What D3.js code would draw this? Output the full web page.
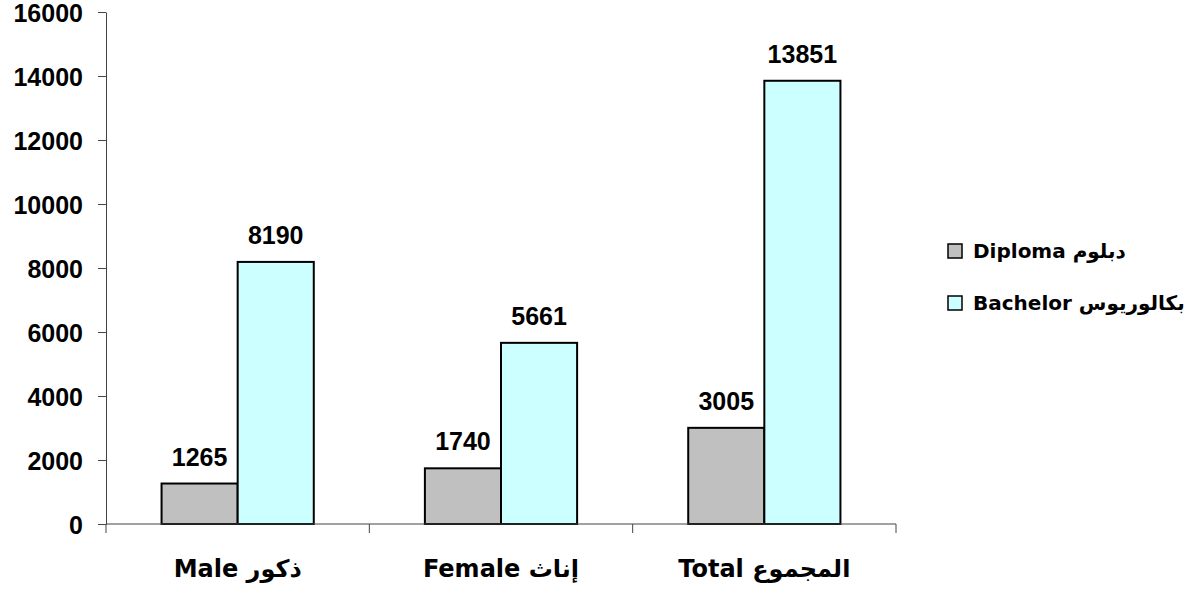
<!DOCTYPE html>
<html>
<head>
<meta charset="utf-8">
<script src="https://cdn.jsdelivr.net/npm/d3@7"></script>
<style>
  body { margin: 0; background: #fff; }
  svg text { font-family: "Liberation Sans", Arial, sans-serif; font-weight: bold; fill: #000; }
</style>
</head>
<body>
<div id="chart"></div>
<script>
// Datos del gráfico
const categories = ['Male ذكور', 'Female إناث', 'Total المجموع'];
const seriesNames = ['Diploma دبلوم', 'Bachelor بكالوريوس'];
const diploma = [1265, 1740, 3005];
const bachelor = [8190, 5661, 13851];
const yTicks = [0, 2000, 4000, 6000, 8000, 10000, 12000, 14000, 16000];
const colors = ['#c0c0c0', '#ccffff'];

// Configuración
const margin = { top: 12, right: 299, bottom: 76, left: 106 };
const width = 1195 - margin.left - margin.right;
const height = 600 - margin.top - margin.bottom;

const svg = d3
	.select('#chart')
	.append('svg')
	.attr('width', 1195)
	.attr('height', 600)
	.append('g')
	.attr('transform', `translate(${margin.left},${margin.top})`);

// Escalas
const x0 = d3.scaleBand().domain(categories).range([0, width]).padding(0);
const x1 = d3
	.scaleBand()
	.domain(seriesNames)
	.range([0, x0.bandwidth()])
	.paddingInner(0)
	.paddingOuter(0.73);
const y = d3.scaleLinear().domain([0, 16000]).range([height, 0]);

const rows = categories.map((c, i) => ({
	cat: c,
	values: [
		{ name: seriesNames[0], value: diploma[i], color: colors[0] },
		{ name: seriesNames[1], value: bachelor[i], color: colors[1] },
	],
}));

// Eje Y
const yAxis = svg
	.append('g')
	.call(d3.axisLeft(y).tickValues(yTicks).tickSize(8).tickSizeOuter(0).tickPadding(15).tickFormat(d3.format('d')));
yAxis.select('.domain').attr('stroke', '#444');
yAxis.selectAll('.tick line').attr('stroke', '#444');
yAxis.selectAll('text').style('font-size', '25px').attr('dy', '0.36em');

// Barras
const groups = svg
	.selectAll('.grp')
	.data(rows)
	.enter()
	.append('g')
	.attr('transform', (d) => `translate(${x0(d.cat)},0)`);

groups
	.selectAll('rect')
	.data((d) => d.values)
	.enter()
	.append('rect')
	.attr('x', (d) => x1(d.name))
	.attr('y', (d) => y(d.value))
	.attr('width', x1.bandwidth())
	.attr('height', (d) => height - y(d.value))
	.style('fill', (d) => d.color)
	.style('stroke', '#000')
	.style('stroke-width', 2);

groups
	.selectAll('.lbl')
	.data((d) => d.values)
	.enter()
	.append('text')
	.attr('x', (d) => x1(d.name) + x1.bandwidth() / 2)
	.attr('y', (d) => y(d.value) - 18)
	.attr('text-anchor', 'middle')
	.style('font-size', '25px')
	.text((d) => d.value);

// Eje X
svg
	.append('line')
	.attr('x1', 0)
	.attr('x2', width)
	.attr('y1', height)
	.attr('y2', height)
	.attr('stroke', '#444');

const bounds = categories.map((c) => x0(c)).concat([width]);
svg
	.selectAll('.xtick')
	.data(bounds)
	.enter()
	.append('line')
	.attr('x1', (d) => d)
	.attr('x2', (d) => d)
	.attr('y1', height)
	.attr('y2', height + 9)
	.attr('stroke', '#444');

svg
	.selectAll('.xlbl')
	.data(categories)
	.enter()
	.append('text')
	.attr('x', (d) => x0(d) + x0.bandwidth() / 2)
	.attr('y', height + 53)
	.attr('text-anchor', 'middle')
	.attr('direction', 'ltr')
	.style('font-family', '"DejaVu Sans", sans-serif')
	.style('font-size', '24px')
	.text((d) => d);

// Leyenda
const legend = d3
	.select('#chart svg')
	.append('g')
	.attr('transform', 'translate(948,244)');

const items = legend
	.selectAll('g')
	.data(seriesNames)
	.enter()
	.append('g')
	.attr('transform', (d, i) => `translate(0,${i * 52})`);

items
	.append('rect')
	.attr('width', 14)
	.attr('height', 14)
	.style('fill', (d, i) => colors[i])
	.style('stroke', '#000')
	.style('stroke-width', 1.5);

items
	.append('text')
	.attr('x', 25)
	.attr('y', 14)
	.style('font-family', '"DejaVu Sans", sans-serif')
	.style('font-size', '20px')
	.text((d) => d);
</script>
</body>
</html>
